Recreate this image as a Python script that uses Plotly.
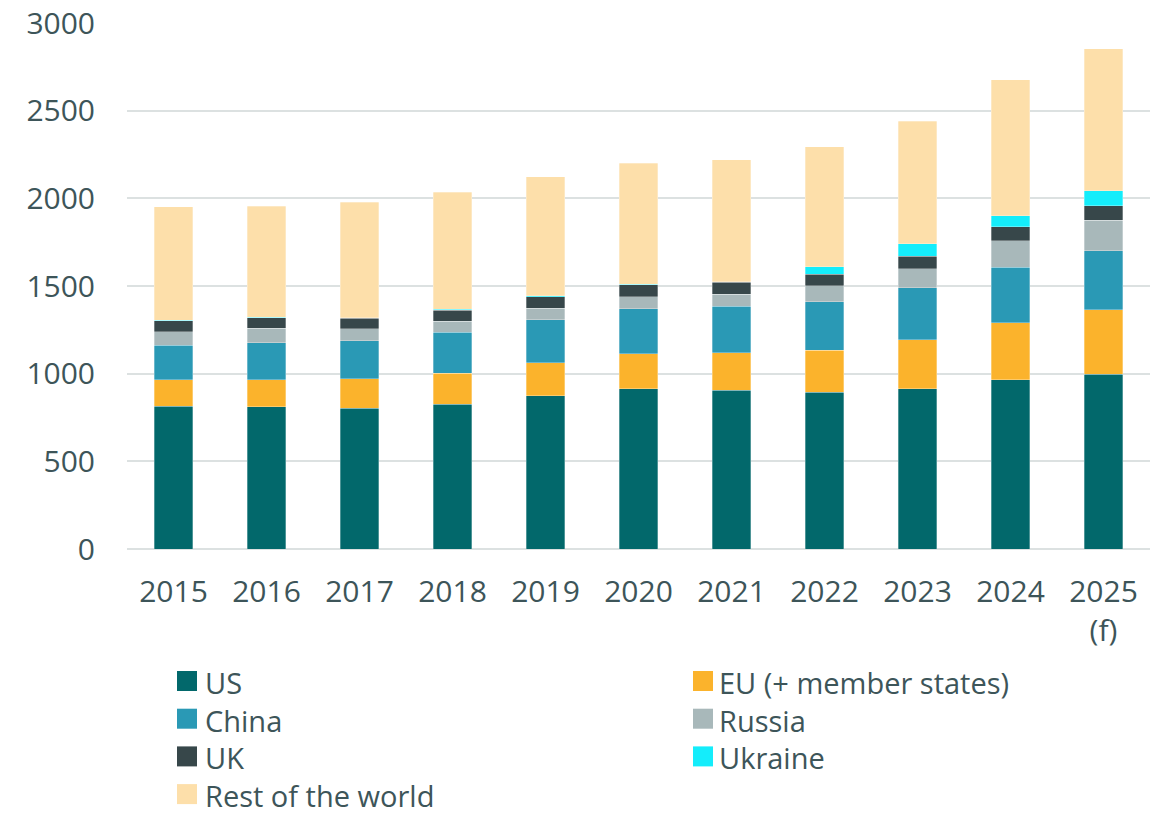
import plotly.graph_objects as go

years = ["2015", "2016", "2017", "2018", "2019", "2020", "2021", "2022", "2023", "2024", "2025<br>(f)"]

us      = [814, 810, 802, 825, 874, 914, 905, 894, 914, 966, 998]
eu      = [150, 156, 168, 177, 187, 200, 213, 241, 280, 325, 367]
china   = [198, 211, 218, 234, 247, 257, 266, 274, 295, 317, 335]
russia  = [77, 83, 67, 63, 65, 68, 70, 93, 110, 150, 176]
uk      = [63, 59, 61, 64, 66, 67, 67, 66, 72, 79, 82]
ukraine = [4, 3, 4, 5, 6, 5, 4, 42, 69, 64, 84]
rest    = [646, 634, 657, 668, 677, 690, 694, 683, 701, 774, 810]

series_names = ["US", "EU (+ member states)", "China", "Russia", "UK", "Ukraine", "Rest of the world"]
series_values = [us, eu, china, russia, uk, ukraine, rest]
series_colors = ["#02686B", "#FBB32C", "#2A99B5", "#A8B8BA", "#37474A", "#14EDFB", "#FDDFAA"]

text_color = "#3D5559"
font_family = "'Open Sans', sans-serif"

W, H = 1167, 814
ML, MR, MT, MB = 127, 17, 23, 265
PW, PH = W - ML - MR, H - MT - MB

fig = go.Figure()
for name, vals, color in zip(series_names, series_values, series_colors):
    fig.add_trace(go.Bar(
        x=years, y=vals, name=name, showlegend=False,
        marker=dict(color=color, line=dict(width=0.6, color="rgba(255,255,255,0.5)")),
        width=0.41,
    ))

# Two-column legend: one multi-line text block per column + square swatches
leg_font = 29
line_h = leg_font * 1.3
first_row_px = 682
col_swatch_px = [177, 693]
col_text_px = [203, 717]
sw = 20

def px_x(px):
    return (px - ML) / PW
def px_y(py):
    return (H - MB - py) / PH

shapes, annotations = [], []
for c in range(2):
    idx = [i for i in range(len(series_names)) if i % 2 == c]
    n = len(idx)
    for r, i in enumerate(idx):
        yc = first_row_px + r * line_h - 1
        shapes.append(dict(
            type="rect", xref="paper", yref="paper",
            x0=px_x(col_swatch_px[c]), x1=px_x(col_swatch_px[c] + sw),
            y0=px_y(yc + sw / 2), y1=px_y(yc - sw / 2),
            fillcolor=series_colors[i], line=dict(width=0),
        ))
    block_center = first_row_px + (n - 1) * line_h / 2
    annotations.append(dict(
        text="<br>".join(series_names[i] for i in idx),
        xref="paper", yref="paper",
        x=px_x(col_text_px[c]), y=px_y(block_center),
        xanchor="left", yanchor="middle", align="left", showarrow=False,
        font=dict(size=leg_font, color=text_color, family=font_family),
    ))

fig.update_layout(
    barmode="stack",
    width=W, height=H,
    margin=dict(l=ML, r=MR, t=MT, b=MB),
    plot_bgcolor="white", paper_bgcolor="white",
    font=dict(family=font_family, color=text_color, size=30),
    showlegend=False,
    shapes=shapes,
    annotations=annotations,
)

fig.update_yaxes(
    range=[0, 3000], dtick=500,
    showgrid=True, gridcolor="#DCE1E1", gridwidth=1.5,
    zeroline=True, zerolinecolor="#DCE1E1", zerolinewidth=1.5,
    showline=False, automargin=False,
    tickfont=dict(size=30, color=text_color),
    ticks="outside", ticklen=25, tickcolor="rgba(0,0,0,0)",
)
fig.update_xaxes(
    showgrid=False, showline=False, automargin=False,
    tickfont=dict(size=30, color=text_color),
    ticks="outside", ticklen=16, tickcolor="rgba(0,0,0,0)",
)

fig.write_html(
    "out.html",
    config={"displayModeBar": False},
    post_script="document.body.style.margin='0px';document.body.style.overflow='hidden';",
)
